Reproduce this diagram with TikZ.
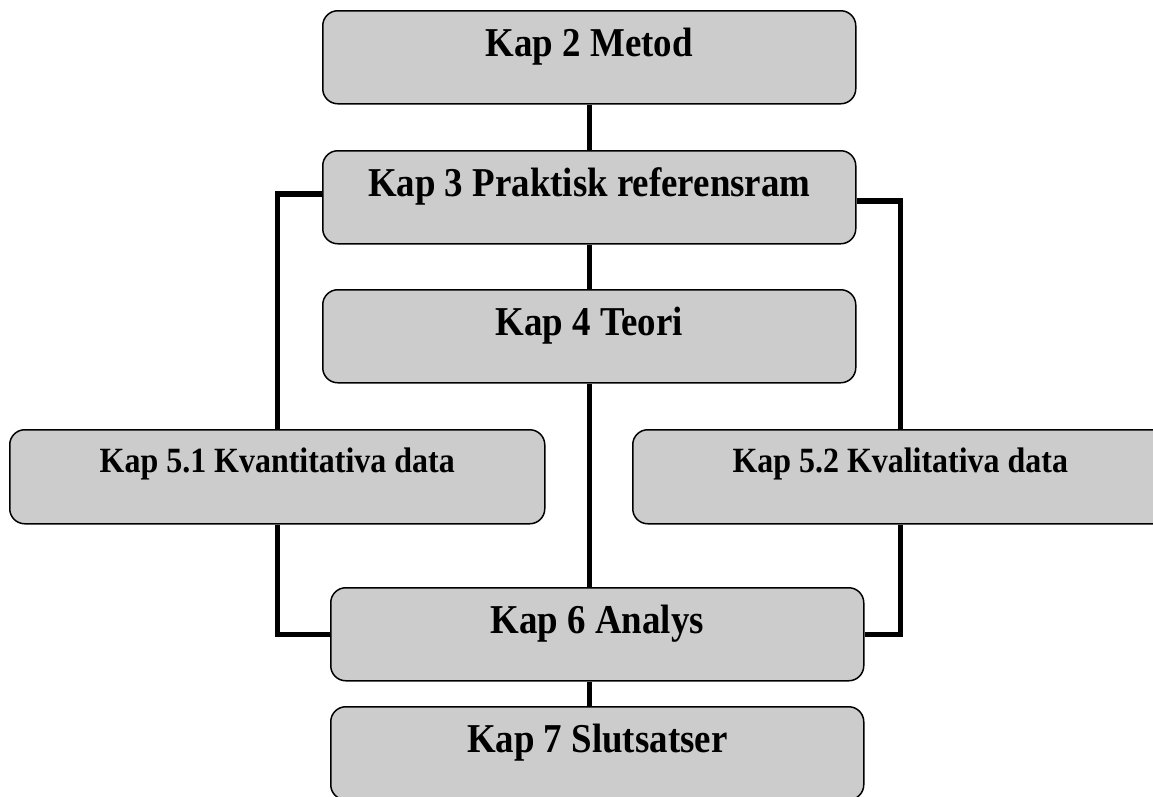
\documentclass[tikz,border=0pt]{standalone}
\usepackage{fontspec}
\setmainfont[FakeStretch=0.9]{Liberation Serif}
\begin{document}
\begin{tikzpicture}[x=1pt,y=-1pt,
  chapbox/.style={draw=black,line width=1.5pt,fill=boxgray,rounded corners=15pt,
    inner xsep=0pt,inner ysep=0pt,minimum width=533pt,anchor=north west,
    font=\bfseries\fontsize{41}{44}\selectfont,text height=46pt,text depth=47pt},
  smallbox/.style={chapbox,minimum width=535pt,
    font=\bfseries\fontsize{35.5}{38}\selectfont,text height=43pt,text depth=51pt},
  link/.style={line width=5.5pt,draw=black}]
\definecolor{boxgray}{HTML}{CCCCCC}
\useasboundingbox (0,0) rectangle (1153,796);
\clip (0,0) rectangle (1153,796);
\node[chapbox] (k2) at (322,10) {Kap 2 Metod};
\node[chapbox] (k3) at (322,150) {Kap 3 Praktisk referensram};
\node[chapbox] (k4) at (322,289) {Kap 4 Teori};
\node[smallbox] (k51) at (9,429) {Kap 5.1 Kvantitativa data};
\node[smallbox] (k52) at (632,429) {Kap 5.2 Kvalitativa data};
\node[chapbox] (k6) at (330,587) {Kap 6 Analys};
\node[chapbox] (k7) at (330,706) {Kap 7 Slutsatser};
\draw[link] (k2.south) -- (k3.north);
\draw[link] (k3.south) -- (k4.north);
\draw[link] (k4.south) -- (k4.south |- k6.north);
\draw[link] (k4.south |- k6.south) -- (k4.south |- k7.north);
\draw[link] ([yshift=3.5pt]k3.west) -| (k51.north);
\draw[link] ([yshift=-3.5pt]k3.east) -| (k52.north);
\draw[link] (k51.south) |- (k6.west);
\draw[link] (k52.south) |- (k6.east);
\end{tikzpicture}
\end{document}
